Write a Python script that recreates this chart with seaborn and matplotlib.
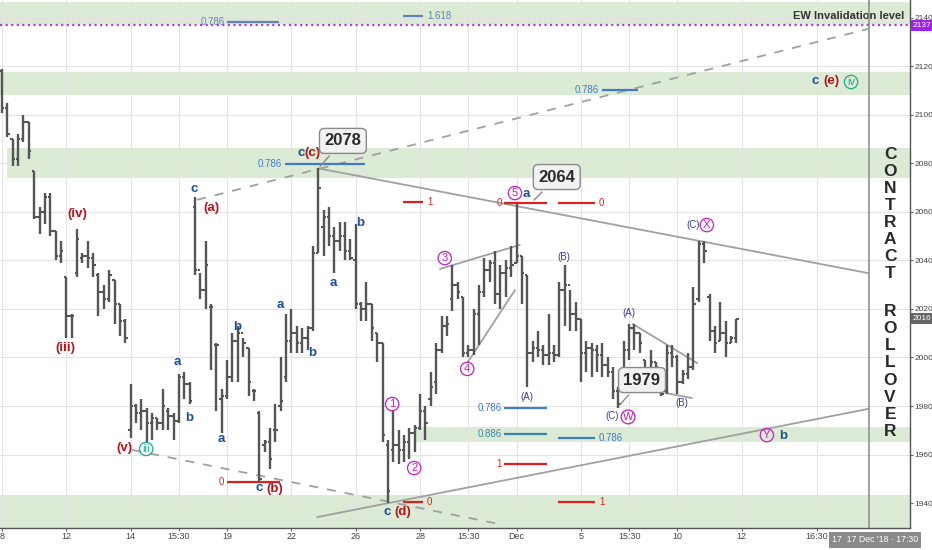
import numpy as np
import pandas as pd
import matplotlib
matplotlib.use("Agg")
import matplotlib.pyplot as plt
import seaborn as sns

# OHLC bars (one bar per ~2h session)
highs = [2119, 2105, 2090, 2092, 2100, 2097, 2077, 2062, 2068, 2068, 2052, 2048, 2033, 2018, 2053, 2043,
         2048, 2043, 2035, 2030, 2036, 2032, 2022, 2016, 1989, 1981, 1983, 1979, 1977, 1975, 1987, 1979,
         1977, 1993, 1994, 1990, 2066, 2035, 2048, 2022, 2006, 1987, 1999, 2010, 2013, 2008, 2004, 1987,
         1978, 1966, 1971, 1981, 2000, 2018, 2020, 2013, 2012, 2013, 2046, 2078, 2061, 2062, 2054, 2056,
         2056, 2049, 2055, 2023, 2031, 2022, 2010, 2006, 1966, 1978, 1970, 1968, 1971, 1972, 1985, 1980,
         1994, 2006, 2017, 2017, 2038, 2031, 2025, 2005, 2020, 2030, 2041, 2040, 2044, 2038, 2040, 2046,
         2064, 2042, 2034, 2007, 2011, 2005, 2018, 2005, 2031, 2038, 2028, 2023, 2016, 2007, 2006, 2005,
         2006, 2000, 1996, 1988, 2007, 2014, 2014, 2010, 1999, 2003, 1998, 1992, 2005, 2005, 2001, 1995,
         2002, 2029, 2048, 2048, 2026, 2013, 2023, 2015, 2009, 2016]
lows = [2101, 2091, 2079, 2079, 2089, 2082, 2057, 2051, 2055, 2050, 2040, 2039, 2008, 2008, 2033, 2039,
        2037, 2033, 2017, 2020, 2023, 2014, 2009, 2006, 1967, 1973, 1970, 1965, 1966, 1970, 1970, 1970,
        1966, 1973, 1983, 1981, 2034, 2024, 2020, 1995, 1978, 1969, 1983, 1990, 1990, 2000, 1984, 1982,
        1949, 1961, 1954, 1965, 1978, 1990, 2002, 2002, 2002, 2003, 2011, 2043, 2042, 2046, 2035, 2044,
        2040, 2040, 2020, 2015, 2015, 2007, 1998, 1965, 1940, 1957, 1956, 1957, 1958, 1961, 1970, 1966,
        1980, 1985, 2002, 2009, 2019, 2024, 2000, 2000, 2001, 2005, 2025, 2031, 2022, 2020, 2025, 2033,
        2039, 2022, 1988, 1998, 2000, 1997, 1997, 1998, 2000, 2013, 2011, 2011, 1990, 1994, 1992, 1994,
        1992, 1992, 1983, 1979, 1989, 1999, 2003, 2002, 1987, 1990, 1992, 1984, 1985, 1996, 1985, 1989,
        1991, 1995, 2023, 2039, 2007, 2002, 2007, 2000, 2006, 2006]
opens = [2118, 2103, 2090, 2082, 2090, 2097, 2077, 2058, 2060, 2066, 2052, 2042, 2033, 2017, 2035, 2041,
         2042, 2041, 2034, 2027, 2024, 2032, 2022, 2015, 1970, 1980, 1977, 1978, 1973, 1975, 1973, 1978,
         1976, 1974, 1992, 1989, 2062, 2036, 2028, 2021, 2005, 1983, 1984, 1992, 2007, 2010, 2004, 1986,
         1977, 1964, 1965, 1970, 1980, 1992, 2007, 2010, 2006, 2008, 2012, 2043, 2054, 2058, 2050, 2048,
         2050, 2044, 2040, 2022, 2020, 2022, 2010, 2006, 1964, 1962, 1964, 1962, 1965, 1969, 1971, 1978,
         1983, 1990, 2003, 2013, 2024, 2030, 2025, 2002, 2003, 2018, 2027, 2036, 2039, 2026, 2035, 2037,
         2039, 2042, 2034, 2002, 2004, 2003, 2001, 2002, 2001, 2028, 2030, 2018, 2016, 2002, 2004, 2003,
         2001, 1997, 1994, 1986, 1990, 2003, 2012, 2010, 1999, 1993, 1998, 1991, 1986, 2002, 2000, 1990,
         1993, 1996, 2024, 2047, 2025, 2011, 2007, 2010, 2006, 2008]
closes = [2103, 2092, 2082, 2090, 2097, 2085, 2058, 2060, 2066, 2052, 2042, 2044, 2017, 2017, 2049, 2042,
          2041, 2038, 2027, 2024, 2034, 2022, 2015, 2008, 1980, 1977, 1978, 1973, 1975, 1973, 1980, 1976,
          1974, 1992, 1989, 1982, 2036, 2028, 2038, 2021, 2005, 1984, 1992, 2007, 2010, 2006, 1990, 1986,
          1950, 1965, 1958, 1970, 1982, 2007, 2010, 2006, 2008, 2012, 2043, 2070, 2058, 2050, 2048, 2050,
          2044, 2041, 2022, 2020, 2022, 2012, 2006, 1968, 1945, 1964, 1962, 1965, 1969, 1971, 1978, 1973,
          1988, 2003, 2013, 2014, 2030, 2027, 2002, 2003, 2018, 2027, 2036, 2039, 2026, 2035, 2037, 2038,
          2042, 2035, 2002, 2004, 2003, 2001, 2002, 2001, 2028, 2030, 2018, 2016, 2002, 2004, 2003, 2001,
          1997, 1994, 1986, 1981, 2003, 2012, 2010, 2006, 1993, 1998, 1996, 1985, 2002, 2000, 1990, 1993,
          1996, 2022, 2047, 2044, 2011, 2006, 2010, 2006, 2008, 2016]

tick_pos = [0, 12, 24, 33, 42, 54, 66, 78, 87, 96, 108, 117, 126, 138, 152]
tick_labels = ["8", "12", "14", "15:30", "19", "22", "26", "28", "15:30", "Dec", "5", "15:30", "10", "12", "16:30"]
price_ticks = [1940, 1960, 1980, 2000, 2020, 2040, 2060, 2080, 2100, 2120, 2140]

# support / resistance zones (low, high, start bar)
zones = [(2137.6, 2146.6, -1), (2108.2, 2117.7, -1), (2074.0, 2086.4, 0.9), (1965.2, 1971.3, 77), (1925, 1943.3, -1)]

# trend lines: (x0, y0, x1, y1, style)
trend_lines = [(36.4, 2065.0, 161.6, 2135.5, "--"), (24.3, 1961.9, 93.5, 1931.0, "--"),
               (59.0, 2078.0, 161.6, 2034.8, "-"), (58.8, 1934.2, 161.6, 1978.8, "-"),
               (81.7, 2036.5, 96.6, 2046.4, "-"), (86.9, 1998.1, 95.7, 2027.8, "-"),
               (117.7, 2013.8, 129.7, 1997.7, "-"), (123.7, 1985.4, 128.7, 1983.3, "-")]

# fib levels: (x0, x1, price, text, side, colour)
BLUE, RED, STEEL, TEAL = "#3f7cc8", "#e02020", "#5f86ad", "#3a86a8"
fibs = [(42.0, 51.7, 2138.2, "0.786", "l", STEEL), (74.8, 78.5, 2141.0, "1.618", "r", STEEL),
        (111.9, 118.7, 2110.4, "0.786", "l", BLUE), (52.8, 67.7, 2079.6, "0.786", "l", BLUE),
        (74.8, 78.5, 2064.1, "1", "r", RED), (93.7, 101.7, 2063.9, "0", "l", RED),
        (103.7, 110.6, 2063.9, "0", "r", RED), (93.7, 101.7, 1979.2, "0.786", "l", BLUE),
        (93.7, 101.7, 1968.5, "0.886", "l", TEAL), (103.7, 110.6, 1966.8, "0.786", "r", BLUE),
        (93.7, 101.7, 1956.1, "1", "l", RED), (103.7, 110.6, 1940.4, "1", "r", RED),
        (74.8, 78.5, 1940.4, "0", "r", RED), (42.0, 51.9, 1948.8, "0", "l", RED)]

# wave labels: (x, y, text, kind)
waves = [(11.9, 2003.9, "(iii)", "red"), (14.0, 2059.2, "(iv)", "red"), (22.8, 1962.7, "(v)", "red"),
         (26.9, 1962.3, "iii", "tealc"), (32.8, 1998.1, "a", "blue"), (34.9, 1975.1, "b", "blue"),
         (35.8, 2069.5, "c", "blue"), (39.0, 2061.6, "(a)", "red"), (40.9, 1966.4, "a", "blue"),
         (43.8, 2012.6, "b", "blue"), (51.9, 2021.6, "a", "blue"), (57.8, 2001.9, "b", "blue"),
         (47.9, 1946.2, "c", "blue"), (50.9, 1945.8, "(b)", "red"), (55.8, 2084.3, "c", "blue"),
         (58.0, 2084.3, "(c)", "red"), (61.8, 2030.7, "a", "blue"), (66.8, 2055.5, "b", "blue"),
         (72.8, 1980.8, "1", "magc"), (76.9, 1954.4, "2", "magc"), (71.8, 1936.3, "c", "blue"),
         (74.8, 1936.3, "(d)", "red"), (82.6, 2041.0, "3", "magc"), (86.8, 1995.3, "4", "magc"),
         (95.7, 2067.8, "5", "magc"), (97.8, 2067.6, "a", "blue"), (97.9, 1983.7, "(A)", "ind"),
         (104.9, 2041.4, "(B)", "ind"), (113.8, 1975.9, "(C)", "ind"), (116.8, 1975.5, "W", "magc"),
         (117.0, 2018.4, "(A)", "ind"), (126.9, 1981.2, "(B)", "ind"), (128.9, 2054.6, "(C)", "ind"),
         (131.5, 2054.6, "X", "magc"), (142.7, 1968.0, "Y", "magc"), (145.7, 1967.6, "b", "blue"),
         (151.7, 2114.0, "c", "blue"), (154.7, 2114.0, "(e)", "red"), (158.4, 2113.6, "iv", "tealc")]

# price callouts: (text, box x, box y, point x, point y)
callouts = [("2078", 63.6, 2089.3, 59.0, 2078.0), ("2064", 103.5, 2074.4, 98.9, 2064.1),
            ("1979", 119.4, 1990.7, 114.9, 1979.6)]

bars = pd.DataFrame({"x": np.arange(len(highs)), "high": highs, "low": lows, "open": opens, "close": closes})

sns.set_theme(style="white")
plt.rcParams["font.family"] = ["Liberation Sans", "DejaVu Sans"]

fig = plt.figure(figsize=(9.32, 5.5), dpi=100)
ax = fig.add_axes([0.0, 22 / 550, 910 / 932, 528 / 550])
xmin, xmax = -0.373, 169.4
ymin, ymax = 1929.7, 2147.4
ax.set_xlim(xmin, xmax)
ax.set_ylim(ymin, ymax)

for lo, hi, x0 in zones:
    ax.fill_between([x0, xmax], lo, hi, color="#dcebd5", zorder=0, lw=0)

for p in price_ticks:
    ax.axhline(p, color="#e4e4e4", lw=0.8, zorder=0.5)
for t in tick_pos:
    ax.axvline(t, color="#e4e4e4", lw=0.8, zorder=0.5)

for x0, y0, x1, y1, ls in trend_lines:
    sns.lineplot(x=[x0, x1], y=[y0, y1], ax=ax, color="#a0a0a0", lw=1.3, linestyle=ls, zorder=2)
    if ls == "--":
        ax.lines[-1].set_dashes((5, 5))

bar_col = "#555555"
ax.vlines(bars["x"], bars["low"], bars["high"], color=bar_col, lw=1.7, zorder=3)
ax.hlines(bars["open"], bars["x"] - 0.45, bars["x"], color=bar_col, lw=1.5, zorder=3)
ax.hlines(bars["close"], bars["x"], bars["x"] + 0.45, color=bar_col, lw=1.5, zorder=3)

for x0, x1, p, txt, side, col in fibs:
    ax.hlines(p, x0, x1, color=col, lw=1.6, zorder=4)
    if side == "l":
        ax.text(x0 - 0.5, p, txt, color=col, fontsize=7, ha="right", va="center", zorder=4)
    else:
        ax.text(x1 + 0.8, p, txt, color=col, fontsize=7, ha="left", va="center", zorder=4)

styles = {"red": ("#b3141b", None), "blue": ("#1c4f96", None), "ind": ("#3a3aa0", None),
          "magc": ("#c020c0", "circle"), "tealc": ("#20a88c", "circle")}
for x, y, txt, kind in waves:
    col, box = styles[kind]
    if box:
        ax.text(x, y, txt, color=col, fontsize=8, ha="center", va="center", zorder=6,
                bbox=dict(boxstyle="circle,pad=0.15", fc="none", ec=col, lw=0.9))
    elif kind == "ind":
        ax.text(x, y, txt, color=col, fontsize=7, ha="center", va="center", zorder=6)
    else:
        ax.text(x, y, txt, color=col, fontsize=9.5, fontweight="bold", ha="center", va="center", zorder=6)

for txt, bx, by, px, py in callouts:
    ax.annotate(txt, xy=(px, py), xytext=(bx, by), fontsize=12, fontweight="bold", color="#2a2a2a",
                ha="center", va="center", zorder=7,
                bbox=dict(boxstyle="round,pad=0.3", fc="#f2f2f2", ec="#8a8a8a", lw=1),
                arrowprops=dict(arrowstyle="-", color="#8a8a8a", lw=1))

# invalidation level
ax.axhline(2137, color="#b03af0", lw=1.6, linestyle=(0, (1, 1.5)), zorder=5)
ax.text(0.994, (2140.6 - ymin) / (ymax - ymin), "EW Invalidation level", transform=ax.transAxes,
        fontsize=8, color="#333333", ha="right", va="center", fontweight="bold")

# contract rollover marker
ax.axvline(161.75, color="#888888", lw=1.1, zorder=5)
for k, ch in enumerate("CONTRACT"):
    ax.text(165.7, 1940 + (503 - (155 + 17 * k)) / 2.425, ch, fontsize=12.5, fontweight="bold",
            color="#2a2a2a", ha="center", va="center")
for k, ch in enumerate("ROLLOVER"):
    ax.text(165.7, 1940 + (503 - (312 + 17 * k)) / 2.425, ch, fontsize=12.5, fontweight="bold",
            color="#2a2a2a", ha="center", va="center")

# axes
ax.yaxis.tick_right()
ax.set_yticks(price_ticks)
ax.set_yticklabels([str(p) for p in price_ticks], fontsize=6, color="#444444")
ax.set_xticks(tick_pos)
ax.set_xticklabels(tick_labels, fontsize=6.5, color="#444444")
ax.tick_params(axis="both", length=2, width=0.8, color="#666666", pad=1)
ax.tick_params(axis="y", right=True, left=False)
ax.tick_params(axis="x", bottom=True)
for s in ["left", "top"]:
    ax.spines[s].set_visible(False)
for s in ["right", "bottom"]:
    ax.spines[s].set_color("#555555")
    ax.spines[s].set_linewidth(1.0)

# price boxes on axis
ax.text(1.003, (2137 - ymin) / (ymax - ymin), "2137", transform=ax.transAxes, fontsize=6,
        color="white", ha="left", va="center", bbox=dict(boxstyle="square,pad=0.25", fc="#a020f0", ec="none"))
ax.text(1.003, (2016 - ymin) / (ymax - ymin), "2016", transform=ax.transAxes, fontsize=6,
        color="white", ha="left", va="center", bbox=dict(boxstyle="square,pad=0.25", fc="#666666", ec="none"))
fig.text(875 / 932, 10 / 550, "17  17 Dec '18 · 17:30", fontsize=6.3, color="white", ha="center", va="center",
         bbox=dict(boxstyle="square,pad=0.35", fc="#8a8a8a", ec="none"))

fig.savefig("out.png", dpi=100)
